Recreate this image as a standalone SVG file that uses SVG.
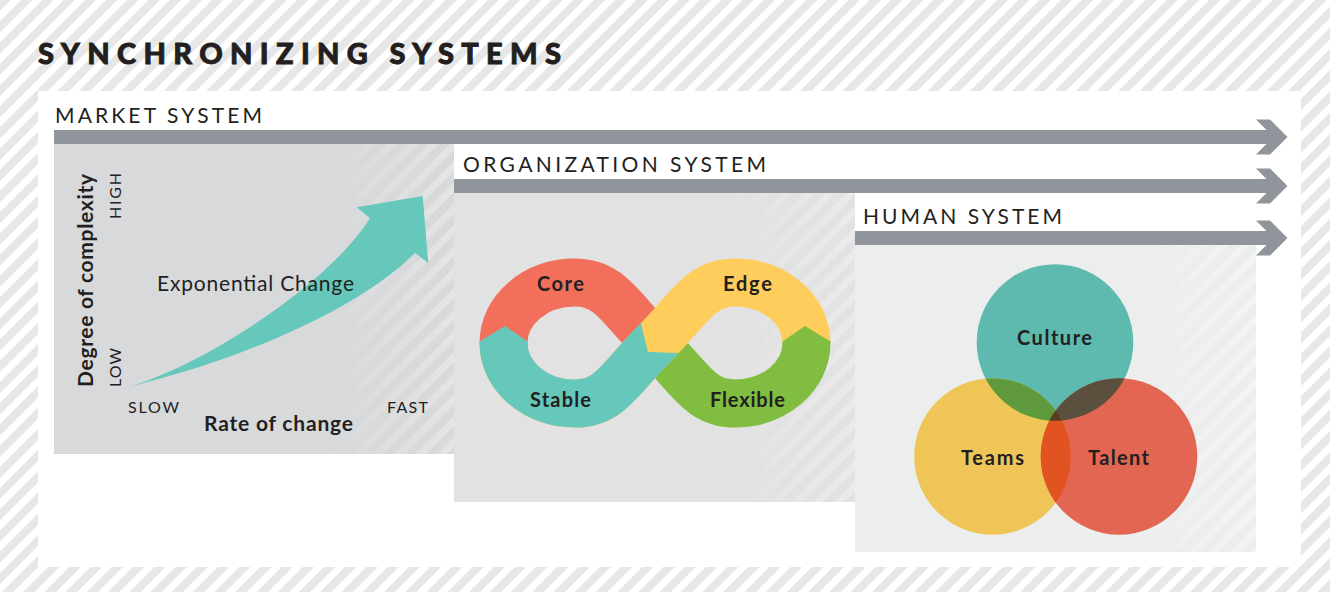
<svg xmlns="http://www.w3.org/2000/svg" width="1330" height="592" viewBox="0 0 1330 592">
  <defs>
    <style>
      text { font-family: Lato, "Liberation Sans", sans-serif; fill: #231f20; }
      .title { font-weight: 900; font-size: 29px; stroke: #231f20; stroke-width: 0.9px; }
      .sys { font-weight: 400; font-size: 21px; }
      .tick { font-weight: 400; font-size: 16px; }
      .axis { font-weight: 700; font-size: 21px; }
      .note { font-weight: 400; font-size: 21px; }
      .lbl { font-weight: 700; font-size: 20px; }
      .bar { fill: #8f959b; }
      .strand { fill: none; stroke-width: 48; stroke-linecap: butt; }
    </style>
    <pattern id="bgStripes" patternUnits="userSpaceOnUse" width="15" height="15" patternTransform="rotate(45)">
      <rect width="15" height="15" fill="#ffffff"/>
      <rect width="8" height="15" fill="#e7e7e7"/>
    </pattern>
    <pattern id="panelStripes" patternUnits="userSpaceOnUse" width="15" height="15" patternTransform="rotate(45)">
      <rect width="7" height="15" fill="#ffffff"/>
    </pattern>
    <linearGradient id="fadeRight" x1="0" y1="0" x2="1" y2="0">
      <stop offset="0.68" stop-color="#fff" stop-opacity="0"/>
      <stop offset="1" stop-color="#fff" stop-opacity="1"/>
    </linearGradient>
    <mask id="fadeMask" maskContentUnits="objectBoundingBox">
      <rect width="1" height="1" fill="url(#fadeRight)"/>
    </mask>
    <clipPath id="tealPart">
      <polygon points="460,250 630,250 641,324 648,352 679,353 700,353 700,450 460,450"/>
    </clipPath>
    <clipPath id="clipCulture"><circle cx="1055" cy="342.5" r="78.3"/></clipPath>
    <clipPath id="clipTeams"><circle cx="992.5" cy="456.5" r="78.3"/></clipPath>
  </defs>

  <!-- hatched backdrop and white sheet -->
  <rect width="1330" height="592" fill="url(#bgStripes)"/>
  <rect x="38" y="91" width="1263" height="476" fill="#ffffff"/>

  <text class="title" x="38" y="64" textLength="523" lengthAdjust="spacing">SYNCHRONIZING SYSTEMS</text>

  <!-- system panels -->
  <g id="market-panel">
    <rect x="54" y="144" width="400" height="310" fill="#d8d9db"/>
    <rect x="54" y="144" width="400" height="310" fill="url(#panelStripes)" opacity="0.3" mask="url(#fadeMask)"/>
    <text class="sys" x="55" y="123" textLength="207" lengthAdjust="spacing">MARKET SYSTEM</text>
  </g>
  <g id="organization-panel">
    <rect x="454" y="193" width="401" height="309" fill="#e2e2e2"/>
    <rect x="454" y="193" width="401" height="309" fill="url(#panelStripes)" opacity="0.3" mask="url(#fadeMask)"/>
    <text class="sys" x="463" y="172" textLength="303" lengthAdjust="spacing">ORGANIZATION SYSTEM</text>
  </g>
  <g id="human-panel">
    <rect x="855" y="245" width="401" height="307" fill="#eceeee"/>
    <rect x="855" y="245" width="401" height="307" fill="url(#panelStripes)" opacity="0.35" mask="url(#fadeMask)"/>
    <text class="sys" x="863" y="224" textLength="199" lengthAdjust="spacing">HUMAN SYSTEM</text>
  </g>

  <!-- timeline arrows -->
  <g id="connectors">
    <path class="bar" d="M54,130 H1266.5 L1256,119.5 H1270 L1287.5,137 L1270,154.5 H1256 L1266.5,144 H54 Z"/>
    <path class="bar" d="M454,179 H1266.5 L1256,168.5 H1270 L1287.5,186 L1270,203.5 H1256 L1266.5,193 H454 Z"/>
    <path class="bar" d="M855,231 H1266.5 L1256,220.5 H1270 L1287.5,238 L1270,255.5 H1256 L1266.5,245 H855 Z"/>
  </g>

  <!-- market chart -->
  <g id="exponential-change">
    <path d="M129.3,386.7 C209,363 330,282 370,218.3 L356.7,207.3 L422.7,196 L428.3,263.3 L415,252.7 C370,300 260,355 129.3,386.7 Z" fill="#66c7bb"/>
    <text class="note" x="157" y="290.5" textLength="197" lengthAdjust="spacing">Exponential Change</text>
  </g>
  <g id="axis-labels">
    <text class="axis" transform="translate(93,387) rotate(-90)" x="0" y="0" textLength="213" lengthAdjust="spacing">Degree of complexity</text>
    <text class="tick" transform="translate(121,219) rotate(-90)" x="0" y="0" textLength="46" lengthAdjust="spacing">HIGH</text>
    <text class="tick" transform="translate(121,387) rotate(-90)" x="0" y="0" textLength="39" lengthAdjust="spacing">LOW</text>
    <text class="tick" x="128" y="412.5" textLength="51" lengthAdjust="spacing">SLOW</text>
    <text class="tick" x="387" y="412.5" textLength="41" lengthAdjust="spacing">FAST</text>
    <text class="axis" x="204" y="431" textLength="149" lengthAdjust="spacing">Rate of change</text>
  </g>

  <!-- infinity loop -->
  <g id="infinity">
    <path class="strand" stroke="#f26f5b" d="M503.5,343 C503.5,310 535,282.5 575,282.5 C610,282.5 620,308 655,343"/>
    <path class="strand" stroke="#80bd41" d="M655,343 C690,378 700,403.5 735,403.5 C775,403.5 806.5,376 806.5,343"/>
    <path class="strand" stroke="#fecd5c" d="M503.5,343 C503.5,376 535,403.5 575,403.5 C610,403.5 620,378 655,343 C690,308 700,282.5 735,282.5 C775,282.5 806.5,310 806.5,343"/>
    <path class="strand" stroke="#66c7bb" clip-path="url(#tealPart)" d="M503.5,343 C503.5,376 535,403.5 575,403.5 C610,403.5 620,378 655,343 C690,308 700,282.5 735,282.5"/>
    <polygon fill="#66c7bb" points="479.5,343.5 479.5,341.5 505,326 527.5,341.5 527.5,343.5"/>
    <polygon fill="#80bd41" points="782.5,343.5 782.5,341.5 805,326 830.5,341.5 830.5,343.5"/>
  </g>
  <g id="node-core"><text class="lbl" x="537" y="290.7" textLength="47" lengthAdjust="spacing">Core</text></g>
  <g id="node-edge"><text class="lbl" x="723" y="290.7" textLength="49" lengthAdjust="spacing">Edge</text></g>
  <g id="node-stable"><text class="lbl" x="530" y="406.7" textLength="61" lengthAdjust="spacing">Stable</text></g>
  <g id="node-flexible"><text class="lbl" x="710" y="406.7" textLength="75" lengthAdjust="spacing">Flexible</text></g>

  <!-- venn of human factors -->
  <g id="venn">
    <circle cx="1055" cy="342.5" r="78.3" fill="#5ebaae"/>
    <circle cx="992.5" cy="456.5" r="78.3" fill="#efc557"/>
    <circle cx="1119" cy="456.5" r="78.3" fill="#e36653"/>
    <circle cx="992.5" cy="456.5" r="78.3" fill="#5e9a3d" clip-path="url(#clipCulture)"/>
    <circle cx="1119" cy="456.5" r="78.3" fill="#5b4f3e" clip-path="url(#clipCulture)"/>
    <circle cx="1119" cy="456.5" r="78.3" fill="#e25322" clip-path="url(#clipTeams)"/>
    <g clip-path="url(#clipCulture)">
      <circle cx="1119" cy="456.5" r="78.3" fill="#563c20" clip-path="url(#clipTeams)"/>
    </g>
  </g>
  <g id="node-culture"><text class="lbl" x="1017" y="345" textLength="75" lengthAdjust="spacing">Culture</text></g>
  <g id="node-teams"><text class="lbl" x="961" y="465" textLength="63" lengthAdjust="spacing">Teams</text></g>
  <g id="node-talent"><text class="lbl" x="1088" y="465" textLength="61" lengthAdjust="spacing">Talent</text></g>
</svg>
